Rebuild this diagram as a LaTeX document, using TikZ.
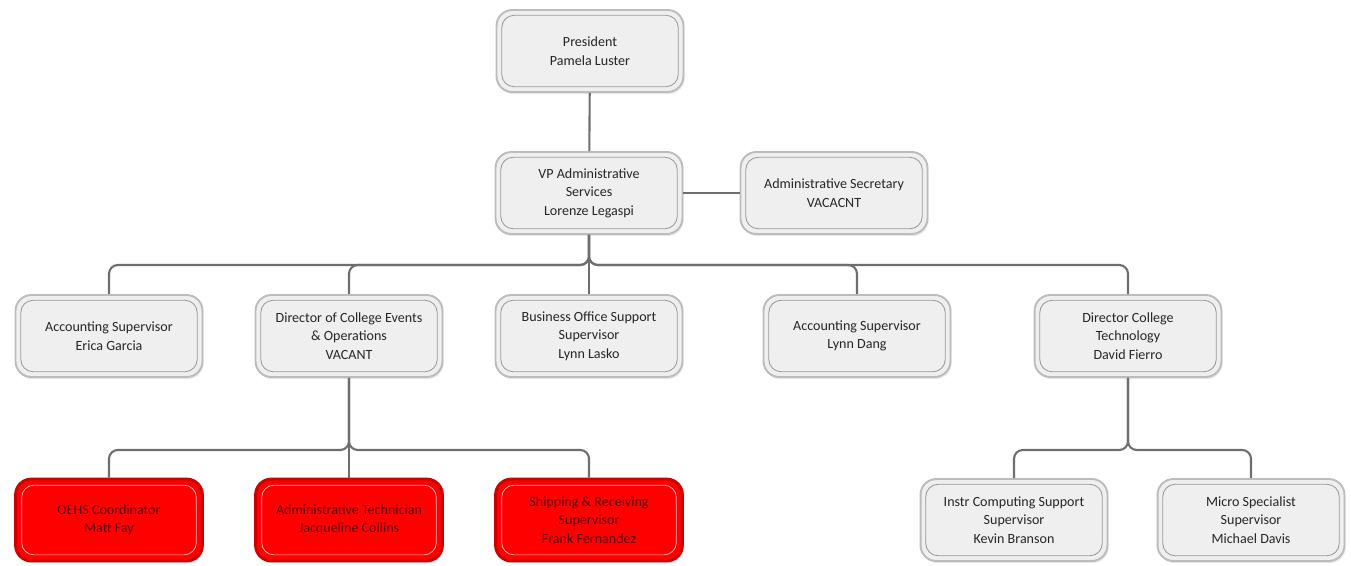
\documentclass[tikz,border=0pt]{standalone}
\usepackage{fontspec}
\setmainfont{Carlito}
\definecolor{boxfill}{cmyk}{0.00,0.00,0.00,0.07}
\definecolor{boxline}{cmyk}{0.00,0.00,0.00,0.30}
\definecolor{innerline}{cmyk}{0.00,0.00,0.00,0.45}
\definecolor{linkgrey}{cmyk}{0.00,0.00,0.00,0.65}
\definecolor{vacant}{rgb}{1.00,0.00,0.00}
\definecolor{darkvacant}{rgb}{0.80,0.00,0.00}
\definecolor{vacanttext}{rgb}{0.35,0.00,0.00}
\definecolor{paleline}{rgb}{1.00,0.75,0.75}
\usepackage{tikz}
\usetikzlibrary{shadows}
\tikzstyle{base}=[x=0.02cm, y=-0.02cm, font=\fontsize{8}{10.5}\selectfont]
\tikzstyle{post}=[rectangle, rounded corners=9pt, align=center,
    minimum width=3.74cm, minimum height=1.64cm, inner sep=2pt,
    draw=boxline, line width=1.1pt, fill=boxfill, text=black!85,
    drop shadow={opacity=0.18, shadow xshift=0.6pt, shadow yshift=-1.2pt},
    path picture={\draw [innerline, line width=0.5pt, rounded corners=7pt]
        ([shift={(3pt,3pt)}]path picture bounding box.south west) rectangle
        ([shift={(-3pt,-3pt)}]path picture bounding box.north east);}]
\tikzstyle{redpost}=[post, draw=darkvacant, line width=1.6pt, fill=vacant, text=vacanttext,
    path picture={\draw [paleline, line width=0.4pt, rounded corners=7pt]
        ([shift={(3.5pt,3.5pt)}]path picture bounding box.south west) rectangle
        ([shift={(-3.5pt,-3.5pt)}]path picture bounding box.north east);}]
\tikzstyle{link}=[draw=linkgrey, line width=1.2pt, rounded corners=5pt]

\begin{document}
\begin{tikzpicture}[base]
    \path [use as bounding box] (0,0) rectangle (1351,565);

    \node [post] (president) at (590,51) {President\\Pamela Luster};
    \node [post] (vp) at (589,193) {VP Administrative\\Services\\Lorenze Legaspi};
    \node [post] (secretary) at (834,193) {Administrative Secretary\\VACACNT};

    \node [post] (acctgarcia) at (109,336) {Accounting Supervisor\\Erica Garcia};
    \node [post] (events) at (349,336) {Director of College Events\\\& Operations\\VACANT};
    \node [post] (business) at (589,336) {Business Office Support\\Supervisor\\Lynn Lasko};
    \node [post] (acctdang) at (857,336) {Accounting Supervisor\\Lynn Dang};
    \node [post] (tech) at (1128,336) {Director College\\Technology\\David Fierro};

    \node [redpost] (oehs) at (109,520) {OEHS Coordinator\\Matt Fay};
    \node [redpost] (admintech) at (349,520) {Administrative Technician\\Jacqueline Collins};
    \node [redpost] (shipping) at (589,520) {Shipping \& Receiving\\Supervisor\\Frank Fernandez};
    \node [post] (instr) at (1014,520) {Instr Computing Support\\Supervisor\\Kevin Branson};
    \node [post] (micro) at (1251,520) {Micro Specialist\\Supervisor\\Michael Davis};

    \coordinate (vpbus) at (589,265);
    \coordinate (eventsbus) at (349,450);
    \coordinate (techbus) at (1128,450);

    \draw [link] (president) -- (vp);
    \draw [link] (vp) -- (secretary);
    \foreach \staff in {acctgarcia, events, business, acctdang, tech}
        \draw [link] (vp.south) -- (vpbus) -| (\staff.north);
    \foreach \staff in {oehs, admintech, shipping}
        \draw [link] (events.south) -- (eventsbus) -| (\staff.north);
    \foreach \staff in {instr, micro}
        \draw [link] (tech.south) -- (techbus) -| (\staff.north);
\end{tikzpicture}
\end{document}
